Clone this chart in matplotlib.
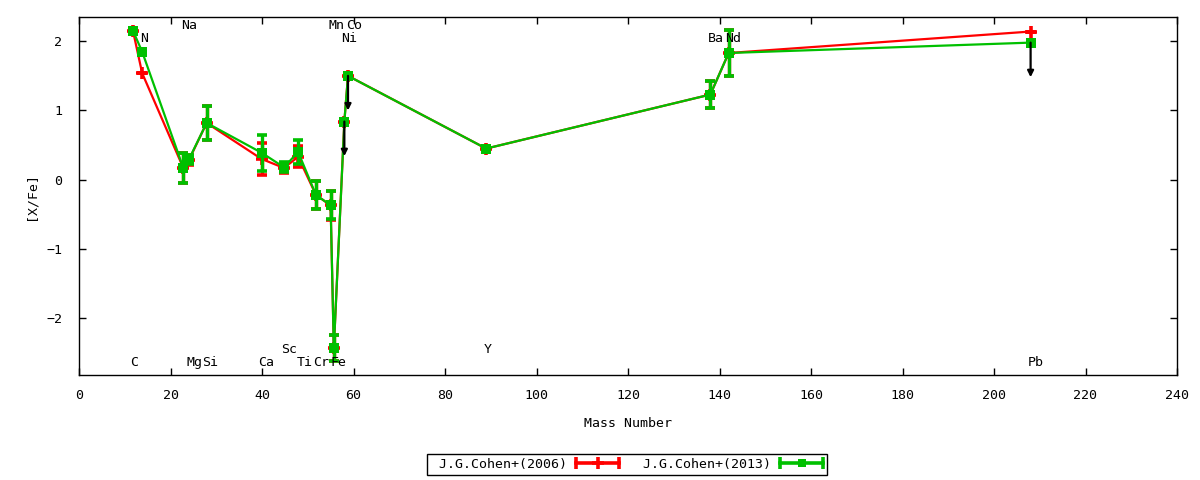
import matplotlib
matplotlib.use("Agg")
import matplotlib.pyplot as plt
from matplotlib.lines import Line2D
from matplotlib.legend_handler import HandlerBase
import numpy as np

# ---------------- data ----------------
elements = ['C', 'N', 'Na', 'Mg', 'Si', 'Ca', 'Sc', 'Ti', 'Cr', 'Mn', 'Fe',
            'Ni', 'Co', 'Y', 'Ba', 'Nd', 'Pb']
mass = [11.8, 13.8, 22.8, 24.0, 27.9, 39.9, 44.8, 47.9, 51.8, 55.0, 55.7,
        58.0, 58.8, 89.0, 138.0, 142.0, 208.0]

# J.G.Cohen+(2006)
y2006 = [2.15, 1.54, 0.17, 0.28, 0.82, 0.30, 0.17, 0.33, -0.22, -0.37, -2.43,
         0.84, 1.50, 0.45, 1.23, 1.83, 2.14]
e2006 = [0.0, 0.0, 0.22, 0.07, 0.25, 0.23, 0.07, 0.15, 0.20, 0.21, 0.19,
         0.0, 0.0, 0.0, 0.19, 0.33, 0.0]

# J.G.Cohen+(2013)
y2013 = [2.15, 1.85, 0.17, 0.29, 0.82, 0.39, 0.18, 0.40, -0.22, -0.37, -2.43,
         0.84, 1.50, 0.45, 1.23, 1.83, 1.98]
e2013 = [0.0, 0.0, 0.22, 0.07, 0.25, 0.26, 0.07, 0.17, 0.20, 0.20, 0.19,
         0.0, 0.0, 0.0, 0.19, 0.33, 0.0]
upper2013 = [False, False, False, False, False, False, False, False, False,
             False, False, True, True, False, False, False, True]
arrow_len = 0.5

# element label positions
lab_x = [12.1, 14.2, 24.0, 25.2, 28.7, 41.0, 45.9, 49.4, 53.0, 56.2, 56.8,
         59.1, 60.2, 89.3, 139.1, 142.9, 209.1]
lab_y = [-2.645, 2.045, 2.225, -2.645, -2.645, -2.645, -2.45, -2.645, -2.645,
         2.225, -2.645, 2.035, 2.225, -2.45, 2.045, 2.045, -2.645]

xticks = list(range(0, 241, 20))
yticks = [-2, -1, 0, 1, 2]

RED = '#ff0000'
GREEN = '#00c000'
FONT = 'DejaVu Sans Mono'
FS = 9.5

plt.rcParams['font.family'] = [FONT]

fig = plt.figure(figsize=(12, 4.8), dpi=100)
ax = fig.add_axes([79 / 1200, 1 - 375 / 480, (1177 - 79) / 1200, (375 - 17) / 480])

err_kw = dict(fmt='none', elinewidth=2.4, capsize=3.5, capthick=2.6)

# 2006 series (below)
ax.errorbar(mass, y2006, yerr=e2006, ecolor=RED, zorder=2, **err_kw)
ax.plot(mass, y2006, color=RED, lw=1.6, marker='+', ms=8, mew=2.6, zorder=2.1)
# 2013 series (above)
ax.errorbar(mass, y2013, yerr=e2013, ecolor=GREEN, zorder=3, **err_kw)
ax.plot(mass, y2013, color=GREEN, lw=1.6, marker='s', ms=7, mew=0, zorder=3.1)

for xv, yv, up in zip(mass, y2013, upper2013):
    if up:
        ax.annotate('', xy=(xv, yv - arrow_len), xytext=(xv, yv),
                    arrowprops=dict(arrowstyle='-|>', color='black', lw=1.6,
                                    mutation_scale=9, shrinkA=0, shrinkB=0),
                    zorder=4)

for name, lx, ly in zip(elements, lab_x, lab_y):
    ax.text(lx, ly, name, ha='center', va='center', fontsize=FS, family=FONT,
            zorder=5)

ax.set_xlim(0, 240)
ax.set_ylim(-2.82, 2.35)
ax.set_xticks(xticks)
ax.set_yticks(yticks)
ax.tick_params(direction='in', top=True, right=True, length=5, width=1,
               labelsize=FS)
ax.tick_params(axis='x', pad=10)
ax.tick_params(axis='y', pad=12)
for s in ax.spines.values():
    s.set_linewidth(1)
    s.set_color('black')

ax.set_xlabel('Mass Number', fontsize=FS)
ax.xaxis.set_label_coords(0.5, -0.118)
ax.set_ylabel('[X/Fe]', fontsize=FS)
ax.yaxis.set_label_coords(-0.038, 0.5)


class ErrHandler(HandlerBase):
    def __init__(self, color, marker, ms, mew):
        super().__init__()
        self.color = color
        self.marker = marker
        self.ms = ms
        self.mew = mew

    def create_artists(self, legend, orig_handle, xdescent, ydescent, width,
                       height, fontsize, trans):
        y = height / 2 - ydescent
        x0 = -xdescent
        x1 = x0 + width
        line = Line2D([x0, x1], [y, y], color=self.color, lw=2.6)
        caps = Line2D([x0, x1], [y, y], ls='none', marker='|', ms=8,
                      mew=2.6, color=self.color)
        mid = Line2D([(x0 + x1) / 2], [y], ls='none', marker=self.marker,
                     ms=self.ms, mew=self.mew, color=self.color)
        for a in (line, caps, mid):
            a.set_transform(trans)
        return [line, caps, mid]


h1 = Line2D([], [], color=RED)
h2 = Line2D([], [], color=GREEN)
leg = fig.legend([h1, h2], [' J.G.Cohen+(2006)', ' J.G.Cohen+(2013)'],
                 handler_map={h1: ErrHandler(RED, '+', 8, 2.6),
                              h2: ErrHandler(GREEN, 's', 6, 0)},
                 loc='center', bbox_to_anchor=(627 / 1200, 1 - 464.5 / 480),
                 ncol=2, markerfirst=False, fontsize=FS, frameon=True,
                 fancybox=False, shadow=False, handlelength=3.3,
                 handletextpad=0.7, columnspacing=1.15, borderpad=0.3,
                 borderaxespad=0)
leg.get_frame().set_edgecolor('black')
leg.get_frame().set_linewidth(1)
leg.get_frame().set_alpha(1)

fig.savefig('out.png', dpi=100)
